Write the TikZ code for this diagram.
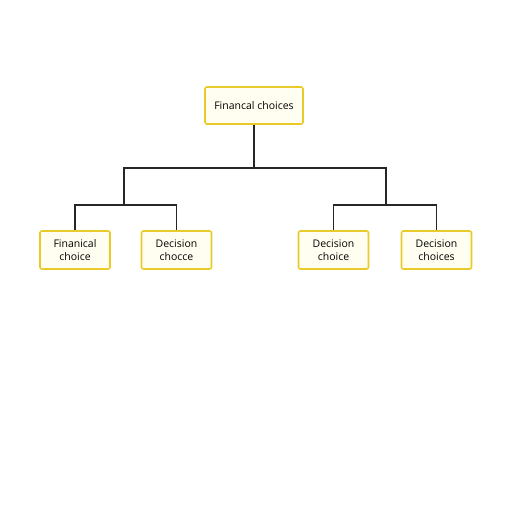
\documentclass[tikz,border=0pt]{standalone}
\usepackage{fontspec}
\setmainfont{Open Sans}
\usepackage{tikz}
\usetikzlibrary{positioning}
\definecolor{boxline}{RGB}{234,202,40}
\definecolor{boxfill}{RGB}{255,254,240}
\tikzstyle{choice} = [rectangle, rounded corners=2pt, minimum width=70pt, minimum height=38pt, inner sep=2pt, text centered, align=center, draw=boxline, fill=boxfill, line width=1.6pt, font=\fontsize{10.5}{13}\selectfont]
\tikzstyle{root} = [choice, minimum width=98pt, minimum height=37pt]
\tikzstyle{link} = [line width=1.3pt, black!85]

\begin{document}
\begin{tikzpicture}[x=1pt, y=-1pt]
\useasboundingbox (0,0) rectangle (512,512);

% Nodes
\node (top) [root] at (254,105.5) {Financal choices};
\node (fin) [choice] at (75,250) {Finanical\\choice};
\node (decl) [choice] at (176.5,250) {Decision\\chocce};
\node (decr) [choice] at (333.5,250) {Decision\\choice};
\node (decs) [choice] at (436.5,250) {Decision\\choices};

% Junctions
\coordinate (split) at (254,168);
\coordinate (lsplit) at (124,205);
\coordinate (rsplit) at (386,205);

% Lines
\draw [link] (top.south) -- (split);
\draw [link] (split) -| (lsplit);
\draw [link] (split) -| (rsplit);
\draw [link] (lsplit) -| (fin.north);
\draw [link] (lsplit) -| (decl.north);
\draw [link] (rsplit) -| (decr.north);
\draw [link] (rsplit) -| (decs.north);

\end{tikzpicture}
\end{document}
